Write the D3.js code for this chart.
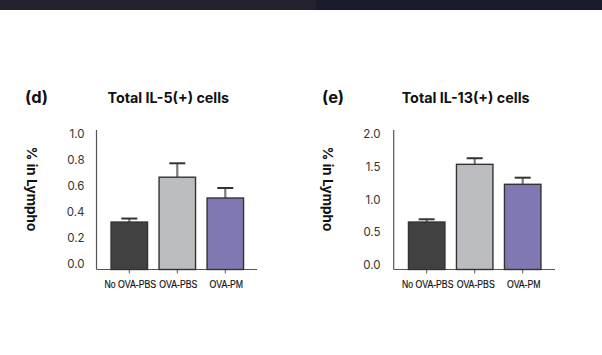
<!DOCTYPE html>
<html><head><meta charset="utf-8">
<script src="https://cdn.jsdelivr.net/npm/d3@7"></script>
<style>html,body{margin:0;padding:0;background:#fff;}svg{display:block;}</style>
</head><body>
<svg id="chart" width="602" height="355"></svg>
<script>
const categories = ["No OVA-PBS", "OVA-PBS", "OVA-PM"];
const il5Values = [0.325, 0.67, 0.51];
const il5Errors = [0.027, 0.107, 0.077];
const il13Values = [0.656, 1.537, 1.232];
const il13Errors = [0.042, 0.093, 0.101];
const il5Ticks = [0.0, 0.2, 0.4, 0.6, 0.8, 1.0];
const il13Ticks = [0.0, 0.5, 1.0, 1.5, 2.0];
const barColors = ["#414141", "#bcbdc0", "#7f78b2"];

const svg = d3.select("#chart");
// top dark band
svg.append("rect").attr("x",0).attr("y",0).attr("width",316).attr("height",10).attr("fill","#24212d");
svg.append("rect").attr("x",316).attr("y",0).attr("width",286).attr("height",10).attr("fill","#1b1c2b");

function panel(opt){
  const g = svg.append("g");
  const y = d3.scaleLinear().domain([0, opt.max]).range([opt.zeroY, opt.zeroY - opt.pxPerUnit*opt.max]);
  const x = d3.scaleBand().domain(categories).range([opt.x0, opt.x0+144]).paddingInner(0.24).paddingOuter(0.12);
  const base = 269.5;
  // y axis line
  g.append("line").attr("x1",opt.axisX).attr("x2",opt.axisX).attr("y1",130).attr("y2",base).attr("stroke","#555").attr("stroke-width",1.2);
  // tick labels
  g.selectAll("text.yt").data(opt.ticks).enter().append("text")
    .attr("x", opt.labelX).attr("y", d=>y(d)).attr("dy","0.36em")
    .attr("text-anchor","end").attr("font-family","Inter, 'Noto Sans', sans-serif")
    .attr("font-size",11.5).attr("fill","#333").text(d=>d3.format(".1f")(d));
  // x axis
  const xa = g.append("g").attr("transform",`translate(0,${base})`)
    .call(d3.axisBottom(x).tickSize(4).tickSizeOuter(0).tickPadding(7));
  xa.select(".domain").remove();
  g.append("line").attr("x1",opt.axisX).attr("x2",opt.axisEnd).attr("y1",base).attr("y2",base).attr("stroke","#555").attr("stroke-width",1.2);
  xa.selectAll(".tick line").attr("stroke","#555");
  xa.selectAll(".tick text").attr("font-family","'Liberation Sans', Arial, sans-serif")
    .attr("font-size",11).attr("fill","#111").attr("stroke","#111").attr("stroke-width",0.2)
    .attr("transform","translate(1,0) scale(0.79,1)");
  // error bars
  const cap = 8;
  g.selectAll("line.err").data(opt.values).enter().append("line")
    .attr("x1",(d,i)=>x(categories[i])+x.bandwidth()/2).attr("x2",(d,i)=>x(categories[i])+x.bandwidth()/2)
    .attr("y1",d=>y(d)).attr("y2",(d,i)=>y(d+opt.errors[i])).attr("stroke","#7a7a7a").attr("stroke-width",2.2);
  g.selectAll("line.cap").data(opt.values).enter().append("line")
    .attr("x1",(d,i)=>x(categories[i])+x.bandwidth()/2-cap).attr("x2",(d,i)=>x(categories[i])+x.bandwidth()/2+cap)
    .attr("y1",(d,i)=>y(d+opt.errors[i])).attr("y2",(d,i)=>y(d+opt.errors[i])).attr("stroke","#333").attr("stroke-width",2);
  // bars
  g.selectAll("rect.bar").data(opt.values).enter().append("rect")
    .attr("x",(d,i)=>x(categories[i])).attr("width",x.bandwidth())
    .attr("y",d=>y(d)).attr("height",d=>base-y(d))
    .attr("fill",(d,i)=>barColors[i]).attr("stroke","#333").attr("stroke-width",1.4);
  // titles
  g.append("text").attr("x",opt.letterX).attr("y",103).attr("font-family","Inter, 'Noto Sans', sans-serif")
    .attr("font-weight","bold").attr("font-size",16.5).attr("fill","#111").text(opt.letter);
  g.append("text").attr("x",opt.titleX).attr("y",102.5).attr("font-family","Inter, 'Noto Sans', sans-serif")
    .attr("font-weight","bold").attr("font-size",14.3).attr("fill","#111").text(opt.title);
  g.append("text").attr("transform",`translate(${opt.ylabX},189) rotate(90)`).attr("text-anchor","middle")
    .attr("dy","0.35em").attr("font-family","Inter, 'Noto Sans', sans-serif")
    .attr("font-weight","bold").attr("font-size",13.5).attr("fill","#111").text("% in Lympho");
}

panel({values: il5Values, errors: il5Errors, ticks: il5Ticks, max: 1.0, zeroY: 264.3, pxPerUnit: 130,
  x0: 105.3, axisX: 96.5, axisEnd: 257, labelX: 84.5, letter: "(d)", letterX: 25, title: "Total IL-5(+) cells", titleX: 107.5, ylabX: 32});
panel({values: il13Values, errors: il13Errors, ticks: il13Ticks, max: 2.0, zeroY: 265, pxPerUnit: 65.5,
  x0: 402.7, axisX: 393.7, axisEnd: 555, labelX: 380.5, letter: "(e)", letterX: 322, title: "Total IL-13(+) cells", titleX: 401.7, ylabX: 328});
</script>
</body></html>
